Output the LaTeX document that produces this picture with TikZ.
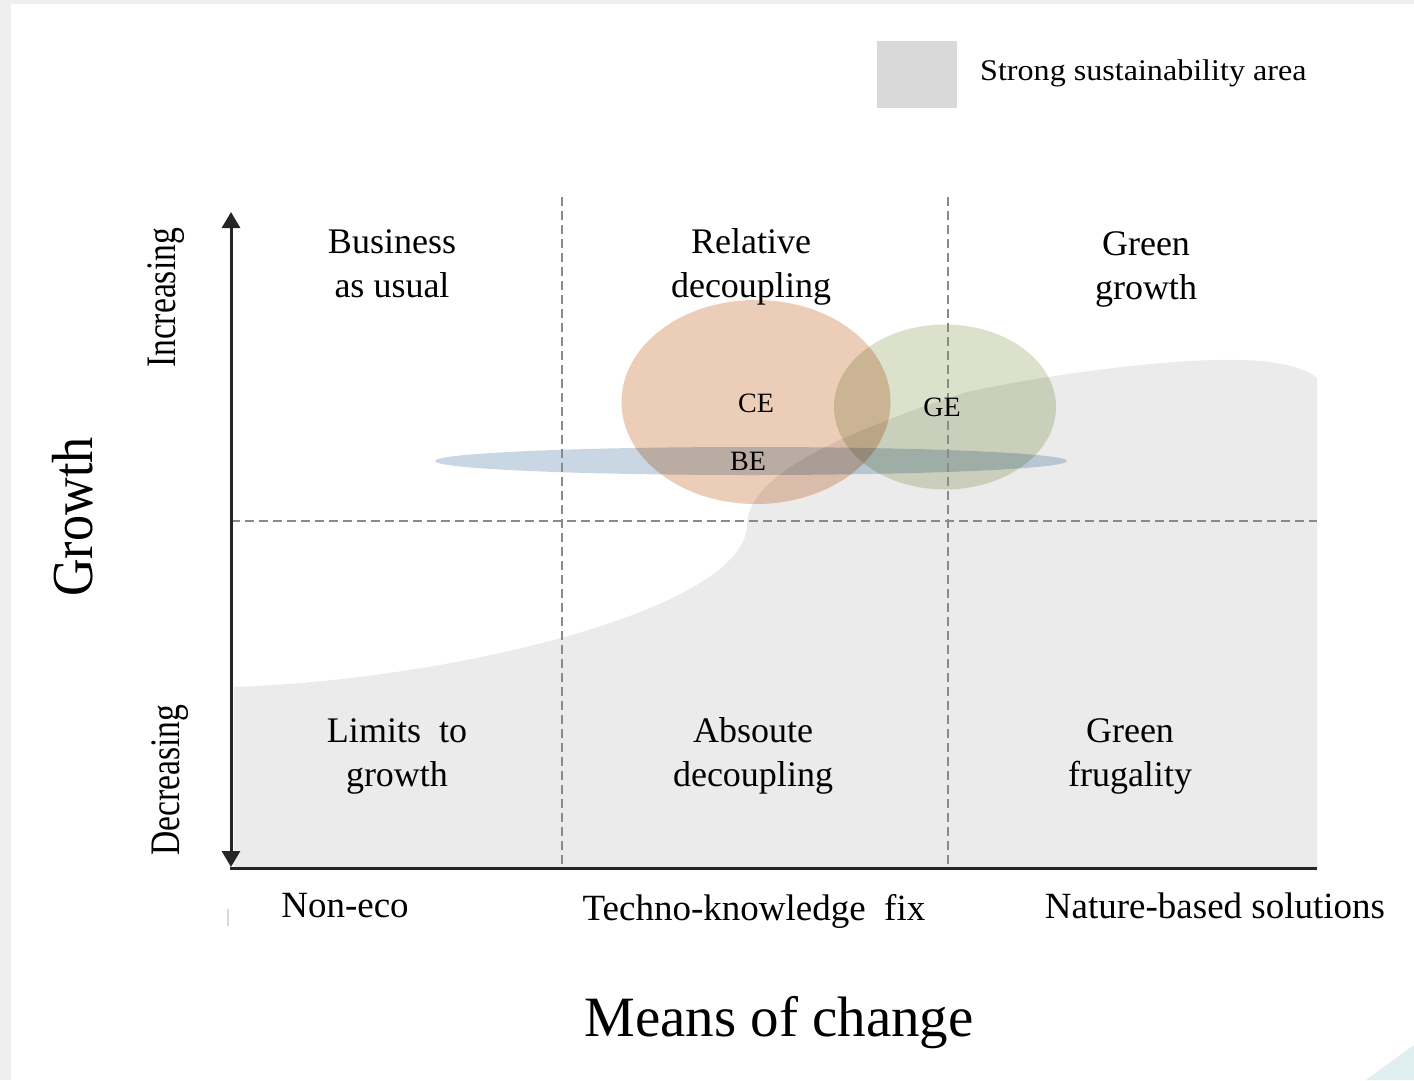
\documentclass[tikz,border=0pt]{standalone}
\usepackage{fontspec}
\setmainfont{Liberation Serif}
\usetikzlibrary{arrows.meta,shapes.geometric}
\definecolor{bgedge}{HTML}{EFEFEF}
\definecolor{cornerteal}{HTML}{DFEEEE}
\definecolor{sustgray}{HTML}{EBEBEB}
\definecolor{legendgray}{HTML}{D9D9D9}
\definecolor{dashgray}{HTML}{8A8A8A}
\definecolor{cecol}{HTML}{ECCDB8}
\definecolor{gecol}{HTML}{DCE1CC}
\definecolor{becol}{HTML}{C9D6E3}
\begin{document}
\begin{tikzpicture}[x=1pt,y=-1pt,
  quad/.style={font=\fontsize{36}{44}\selectfont, align=center, inner sep=0pt,
    execute at begin node=\vphantom{Ag}, execute at end node=\vphantom{Ag}},
  axlbl/.style={font=\fontsize{37}{44}\selectfont, inner sep=0pt, anchor=base},
  elbl/.style={font=\fontsize{28}{30}\selectfont, inner sep=0pt},
  blob/.style={ellipse, inner sep=0pt, draw=none},
  gridline/.style={draw=dashgray, line width=2pt, dash pattern=on 9pt off 5pt},
  axisline/.style={line width=3pt, black!85},
  bothtips/.style={{Triangle[width=18pt,length=16pt]}-{Triangle[width=18pt,length=16pt]}}
]
\useasboundingbox (0,0) rectangle (1414,1080);
% page background
\fill[bgedge] (0,0) rectangle (1414,1080);
\fill[white] (11,4) rectangle (1414,1080);
\fill[cornerteal] (1366,1080) -- (1414,1045) -- (1414,1080) -- cycle;

% legend
\node[fill=legendgray, minimum width=80pt, minimum height=67pt, inner sep=0pt] (legbox) at (917,74.5) {};
\node[anchor=west, inner sep=0pt, font=\fontsize{30}{34}\selectfont] (legtxt) at (980,73) {\scalebox{1.07}[1]{Strong sustainability area}};

% strong sustainability area
\fill[sustgray] (234,687) .. controls (450,680) and (745,610) .. (747,525)
  .. controls (748,480) and (820,440) .. (967,392)
  .. controls (1060,372) and (1180,358) .. (1240,360)
  .. controls (1280,361) and (1305,368) .. (1317,378)
  -- (1317,868) -- (234,868) -- cycle;

% ellipses
\begin{scope}[blend mode=multiply]
\node[blob, fill=cecol, minimum width=269pt, minimum height=204pt] (CEe) at (756,402) {};
\node[blob, fill=gecol, minimum width=222pt, minimum height=165pt] (GEe) at (945,407) {};
\node[blob, fill=becol, minimum width=632pt, minimum height=28pt] (BEe) at (751,461) {};
\end{scope}

% grid
\coordinate (v1t) at (562,197); \coordinate (v1b) at (562,868);
\coordinate (v2t) at (948,197); \coordinate (v2b) at (948,868);
\coordinate (hl) at (231,521);  \coordinate (hr) at (1317,521);
\draw[gridline] (v1t) -- (v1b);
\draw[gridline] (v2t) -- (v2b);
\draw[gridline] (hl) -- (hr);

% axes
\coordinate (ytop) at (231,212);
\coordinate (ybot) at (231,867);
\coordinate (xo) at (229.5,868);
\coordinate (xend) at (1317,868);
\draw[axisline, bothtips] (ytop) -- (ybot);
\draw[axisline] (xo) -- (xend);
\draw[black!15, line width=1.5pt] (228,909) -- (228,926);

% ellipse labels
\node[elbl] (CE) at (756,403) {CE};
\node[elbl] (GE) at (942,407) {GE};
\node[elbl] (BE) at (748,461) {BE};

% quadrant labels
\node[quad] (bau) at (392,267) {Business\\as usual};
\node[quad] (rel) at (751,267) {Relative\\decoupling};
\node[quad] (ggr) at (1146,269) {Green\\growth};
\node[quad] (lim) at (397,756) {Limits~~to\\growth};
\node[quad] (abs) at (753,756) {Absoute\\decoupling};
\node[quad] (gfr) at (1130,756) {Green\\frugality};

% x labels
\node[axlbl] (noneco) at (345,917) {Non-eco};
\node[axlbl] (techno) at (754,920) {Techno-knowledge~~fix};
\node[axlbl] (nature) at (1215,918) {Nature-based solutions};
\node[anchor=base, inner sep=0pt, font=\fontsize{57}{60}\selectfont] (means) at (779,1036) {Means of change};

% y labels
\node[rotate=90, inner sep=0pt] (growth) at (73,517) {\scalebox{0.9}[1]{\fontsize{58}{60}\selectfont Growth}};
\node[rotate=90, inner sep=0pt] (incr) at (166.5,298) {\scalebox{0.8}[1]{\fontsize{42}{46}\selectfont Increasing}};
\node[rotate=90, inner sep=0pt] (decr) at (170,780) {\scalebox{0.8}[1]{\fontsize{42}{46}\selectfont Decreasing}};
\end{tikzpicture}
\end{document}
